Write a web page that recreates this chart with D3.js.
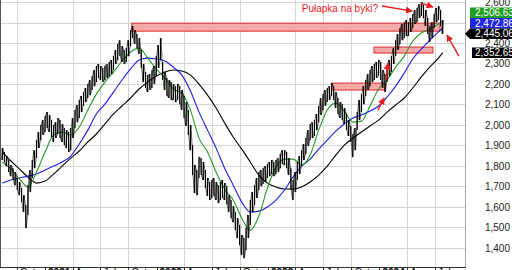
<!DOCTYPE html>
<html>
<head>
<meta charset="utf-8">
<script src="https://cdn.jsdelivr.net/npm/d3@7"></script>
<style>
  body { margin: 0; background: #fff; }
  svg { display: block; font-family: "Liberation Sans", Arial, sans-serif; }
</style>
</head>
<body>
<div id="chart"></div>
<script>
// Weekly bars, first bar = Fri 14 Aug 2020
var firstWeek = new Date(2020, 7, 14);
var weekHigh = [
  1886, 1867, 1847, 1828, 1803, 1788, 1769, 1740, 1720, 1691,
  1656, 1608, 1705, 1779, 1828, 1876, 1925, 1965, 1999, 2023,
  2043, 2062, 2048, 2023, 1999, 2013, 2033, 2023, 2004, 1984,
  1974, 1965, 1984, 2033, 2072, 2097, 2121, 2141, 2160, 2180,
  2199, 2219, 2238, 2268, 2287, 2297, 2287, 2278, 2287, 2297,
  2307, 2317, 2336, 2366, 2395, 2414, 2385, 2366, 2375, 2414,
  2463, 2483, 2463, 2444, 2424, 2366, 2297, 2258, 2243, 2248,
  2268, 2287, 2336, 2390, 2424, 2307, 2258, 2229, 2219, 2209,
  2199, 2189, 2199, 2189, 2170, 2141, 2111, 2072, 1999, 1901,
  1803, 1779, 1842, 1837, 1818, 1779, 1740, 1720, 1730, 1740,
  1720, 1705, 1720, 1730, 1715, 1700, 1656, 1632, 1603, 1573,
  1544, 1510, 1461, 1446, 1495, 1559, 1632, 1671, 1705, 1740,
  1769, 1779, 1788, 1798, 1808, 1818, 1828, 1818, 1828, 1837,
  1857, 1876, 1876, 1867, 1837, 1788, 1730, 1769, 1818, 1847,
  1876, 1906, 1935, 1974, 2004, 2013, 2023, 2053, 2092, 2131,
  2150, 2170, 2180, 2189, 2204, 2189, 2160, 2131, 2111, 2101,
  2082, 2053, 2023, 1994, 1955, 1984, 2062, 2121, 2150, 2189,
  2219, 2248, 2268, 2287, 2297, 2307, 2317, 2307, 2268, 2248,
  2287, 2317, 2336, 2375, 2414, 2444, 2473, 2493, 2502, 2512,
  2502, 2522, 2542, 2561, 2571, 2590, 2600, 2590, 2561, 2522,
  2483, 2502, 2542, 2571, 2581, 2561, 2512
];
var weekLow = [
  1828, 1818, 1798, 1769, 1749, 1730, 1705, 1681, 1656, 1622,
  1573, 1495, 1559, 1671, 1740, 1788, 1837, 1886, 1925, 1950,
  1965, 1984, 1965, 1940, 1916, 1935, 1955, 1935, 1916, 1901,
  1886, 1867, 1876, 1935, 1984, 2013, 2033, 2062, 2092, 2111,
  2131, 2145, 2170, 2189, 2209, 2229, 2219, 2209, 2219, 2229,
  2238, 2248, 2268, 2297, 2317, 2336, 2307, 2297, 2307, 2336,
  2385, 2424, 2395, 2375, 2346, 2278, 2209, 2180, 2160, 2170,
  2180, 2199, 2238, 2278, 2317, 2219, 2170, 2141, 2131, 2121,
  2121, 2111, 2121, 2101, 2072, 2033, 1994, 1950, 1876, 1754,
  1666, 1656, 1740, 1754, 1730, 1691, 1652, 1632, 1642, 1652,
  1632, 1617, 1632, 1642, 1632, 1612, 1573, 1544, 1524, 1485,
  1446, 1412, 1363, 1348, 1387, 1446, 1510, 1573, 1608, 1642,
  1681, 1700, 1710, 1720, 1740, 1749, 1759, 1749, 1759, 1769,
  1788, 1808, 1803, 1788, 1754, 1681, 1632, 1671, 1730, 1759,
  1798, 1828, 1857, 1896, 1925, 1935, 1945, 1974, 2013, 2048,
  2072, 2092, 2111, 2121, 2141, 2121, 2082, 2053, 2033, 2023,
  2004, 1974, 1945, 1916, 1842, 1876, 1974, 2023, 2062, 2101,
  2141, 2170, 2189, 2209, 2219, 2229, 2238, 2219, 2180, 2160,
  2209, 2238, 2258, 2297, 2336, 2366, 2395, 2414, 2424, 2434,
  2434, 2454, 2473, 2493, 2502, 2522, 2532, 2522, 2483, 2444,
  2405, 2424, 2473, 2502, 2512, 2483, 2444
];
var lastClose = 2445.06;

// Moving averages, one value every 4 weeks plus the last week
var maGreen = [
  1818, 1784, 1735, 1696, 1769, 1867, 1950, 1965, 1950, 1989,
  2072, 2150, 2209, 2258, 2312, 2356, 2375, 2326, 2273, 2229,
  2175, 2155, 2072, 1935, 1867, 1769, 1686, 1632, 1544, 1485,
  1554, 1691, 1793, 1832, 1832, 1803, 1852, 1974, 2072, 2106,
  2067, 2013, 2018, 2092, 2175, 2219, 2282, 2336, 2410, 2449,
  2468, 2493, 2506.63
];
var maBlue = [
  1715, 1730, 1740, 1749, 1759, 1779, 1798, 1818, 1847, 1906,
  1974, 2053, 2101, 2160, 2219, 2273, 2317, 2326, 2322, 2312,
  2282, 2243, 2165, 2062, 1974, 1886, 1788, 1705, 1622, 1573,
  1578, 1598, 1632, 1681, 1745, 1798, 1832, 1881, 1925, 1969,
  2004, 2033, 2048, 2067, 2092, 2136, 2189, 2253, 2322, 2370,
  2414, 2454, 2472.86
];
var maBlack = [
  1867, 1823, 1784, 1744, 1715, 1725, 1759, 1798, 1837, 1872,
  1916, 1955, 2004, 2053, 2092, 2131, 2175, 2209, 2238, 2258,
  2268, 2263, 2243, 2199, 2145, 2082, 2009, 1940, 1881, 1818,
  1754, 1715, 1696, 1686, 1686, 1696, 1720, 1754, 1798, 1852,
  1901, 1935, 1965, 1994, 2023, 2062, 2097, 2131, 2180, 2234,
  2283, 2326, 2352.65
];

var yTicks = [1400, 1500, 1600, 1700, 1800, 1900, 2000, 2100, 2200, 2300, 2400, 2500, 2600];
// 2,500 sits behind the value boxes in the reference
var yLabels = [1400, 1500, 1600, 1700, 1800, 1900, 2000, 2100, 2200, 2300, 2400, 2600];

// Resistance bands drawn by hand on the chart
var bandStart = ["2021-10-12", "2023-07-29", "2023-12-14"];
var bandEnd   = ["2024-07-17", "2024-01-19", "2024-06-24"];
var bandLow   = [2458, 2170, 2351];
var bandHigh  = [2497, 2204, 2380];

// Red annotation arrows: [from date, from value, to date, to value]
var arrows = [
  ["2024-01-09", 2581, "2024-04-17", 2556],
  ["2024-05-16", 2595, "2024-06-24", 2576],
  ["2024-09-17", 2336, "2024-08-09", 2439],
  ["2024-01-22", 2219, "2024-01-29", 2302],
  ["2023-12-27", 2072, "2024-01-16", 2131]
];
var noteText = "Pułapka na byki?";

var W = 512, H = 270;
var plotRight = 465, axisY = 267;

var parse = d3.timeParse("%Y-%m-%d");

var svg = d3.select("#chart").append("svg")
    .attr("width", W)
    .attr("height", H);

var x = d3.scaleTime()
    .domain([new Date(2020, 7, 13), new Date(2024, 9, 7)])
    .range([2, plotRight]);
var y = d3.scaleLinear()
    .domain([1400, 2600])
    .range([247.5, 2.1]);

var weeks = weekHigh.map(function(d, i) {
  return { date: d3.timeDay.offset(firstWeek, 7 * i), high: d, low: weekLow[i] };
});
var maIdx = d3.range(0, 205, 4).concat([206]);
function maData(arr) {
  return arr.map(function(v, i) { return { date: weeks[maIdx[i]].date, v: v }; });
}

// Quarter ticks
var qTicks = d3.timeMonth.range(new Date(2020, 9, 1), new Date(2024, 9, 1), 3);

// Grid
svg.append("g").selectAll("line")
    .data(yTicks)
  .enter().append("line")
    .attr("x1", 1).attr("x2", plotRight)
    .attr("y1", function(d) { return Math.round(y(d)) + 0.5; })
    .attr("y2", function(d) { return Math.round(y(d)) + 0.5; })
    .attr("stroke", "#d4d4d4");
svg.append("g").selectAll("line")
    .data(qTicks.filter(function(d) { return d.getMonth() !== 0; }))
  .enter().append("line")
    .attr("x1", function(d) { return Math.round(x(d)) + 0.5; })
    .attr("x2", function(d) { return Math.round(x(d)) + 0.5; })
    .attr("y1", 0).attr("y2", axisY)
    .attr("stroke", "#d4d4d4");

// Bands
svg.append("g").selectAll("rect")
    .data(bandStart)
  .enter().append("rect")
    .attr("x", function(d) { return x(parse(d)); })
    .attr("width", function(d, i) { return x(parse(bandEnd[i])) - x(parse(d)); })
    .attr("y", function(d, i) { return y(bandHigh[i]); })
    .attr("height", function(d, i) { return y(bandLow[i]) - y(bandHigh[i]); })
    .attr("fill", "#f6a9a9")
    .attr("stroke", "#e02828")
    .attr("stroke-width", 1);

// Moving averages
var line = d3.line()
    .x(function(d) { return x(d.date); })
    .y(function(d) { return y(d.v); })
    .curve(d3.curveMonotoneX);
[[maBlack, "#000000"], [maBlue, "#1c1ce0"], [maGreen, "#259a25"]].forEach(function(m) {
  svg.append("path")
      .datum(maData(m[0]))
      .attr("fill", "none")
      .attr("stroke", m[1])
      .attr("stroke-width", 1.1)
      .attr("d", line);
});

// Price: high-low bars plus a thin zigzag through them so it reads as a dense daily series
svg.append("g").selectAll("line")
    .data(weeks)
  .enter().append("line")
    .attr("x1", function(d) { return x(d.date); })
    .attr("x2", function(d) { return x(d.date); })
    .attr("y1", function(d) { return y(d.high); })
    .attr("y2", function(d) { return y(d.low); })
    .attr("stroke", "#000")
    .attr("stroke-width", 1.2);
var zig = [];
weeks.forEach(function(d, i) {
  var a = i % 2 ? d.high : d.low, b = i % 2 ? d.low : d.high;
  zig.push([x(d.date) - 0.5, y(a)], [x(d.date) + 0.5, y(b)]);
});
svg.append("path")
    .attr("d", d3.line()(zig))
    .attr("fill", "none")
    .attr("stroke", "#000")
    .attr("stroke-width", 0.6);

// Frame
svg.append("line").attr("x1", 0.5).attr("x2", 0.5).attr("y1", 0).attr("y2", axisY)
    .attr("stroke", "#555");
svg.append("line").attr("x1", plotRight + 0.5).attr("x2", plotRight + 0.5).attr("y1", 0).attr("y2", axisY)
    .attr("stroke", "#aaa");
svg.append("line").attr("x1", 0).attr("x2", plotRight + 1).attr("y1", axisY + 0.5).attr("y2", axisY + 0.5)
    .attr("stroke", "#333");

// X axis labels (mostly cut by the bottom edge)
var xa = svg.append("g");
xa.selectAll("line")
    .data(qTicks)
  .enter().append("line")
    .attr("x1", function(d) { return Math.round(x(d)) + 0.5; })
    .attr("x2", function(d) { return Math.round(x(d)) + 0.5; })
    .attr("y1", axisY).attr("y2", H)
    .attr("stroke", "#333");
xa.selectAll("text")
    .data(qTicks)
  .enter().append("text")
    .attr("x", function(d) { return x(d) + 3; })
    .attr("y", axisY + 9)
    .style("font-size", "10px")
    .style("font-weight", function(d) { return d.getMonth() === 0 ? "bold" : "normal"; })
    .text(function(d) { return d.getMonth() === 0 ? d.getFullYear() : d3.timeFormat("%b")(d); });

// Y axis labels
svg.append("g").selectAll("text")
    .data(yLabels)
  .enter().append("text")
    .attr("x", 510)
    .attr("y", function(d) { return y(d); })
    .attr("dy", "0.4em")
    .attr("text-anchor", "end")
    .style("font-size", "10px")
    .attr("fill", "#222")
    .text(d3.format(","));

// Last value boxes, pushed up when they overlap the price box
var fmt = d3.format(",.2f");
var boxH = 10.5;
var pY = y(lastClose);
var bY = Math.min(y(maBlue[maBlue.length - 1]), pY - boxH);
var gY = Math.min(y(maGreen[maGreen.length - 1]), bY - boxH);
var kY = y(maBlack[maBlack.length - 1]);
var boxes = [
  { cy: gY, v: maGreen[maGreen.length - 1], c: "#1f9e1f", x0: 470, arrow: false },
  { cy: bY, v: maBlue[maBlue.length - 1], c: "#2424e6", x0: 470, arrow: false },
  { cy: pY, v: lastClose, c: "#000", x0: 470, arrow: true },
  { cy: kY, v: maBlack[maBlack.length - 1], c: "#000", x0: 472, arrow: false }
];
boxes.forEach(function(b) {
  var t = b.cy - boxH / 2, btm = b.cy + boxH / 2;
  var pts = b.arrow
    ? [[465, b.cy], [b.x0, t], [W, t], [W, btm], [b.x0, btm]]
    : [[b.x0, t], [W, t], [W, btm], [b.x0, btm]];
  svg.append("polygon")
      .attr("points", pts.map(function(p) { return p.join(","); }).join(" "))
      .attr("fill", b.c);
  svg.append("text")
      .attr("x", 475)
      .attr("y", b.cy)
      .attr("dy", "0.36em")
      .attr("fill", "#fff")
      .style("font-size", "10px")
      .text(fmt(b.v));
});

// Annotations
svg.append("defs").append("marker")
    .attr("id", "head")
    .attr("viewBox", "0 0 10 10")
    .attr("refX", 9).attr("refY", 5)
    .attr("markerWidth", 5).attr("markerHeight", 5)
    .attr("orient", "auto")
  .append("path")
    .attr("d", "M0,0L10,5L0,10z")
    .attr("fill", "#e81c1c");
svg.append("g").selectAll("line")
    .data(arrows)
  .enter().append("line")
    .attr("x1", function(d) { return x(parse(d[0])); })
    .attr("y1", function(d) { return y(d[1]); })
    .attr("x2", function(d) { return x(parse(d[2])); })
    .attr("y2", function(d) { return y(d[3]); })
    .attr("stroke", "#e81c1c")
    .attr("stroke-width", 1.4)
    .attr("marker-end", "url(#head)");
svg.append("text")
    .attr("x", x(parse("2023-12-27")))
    .attr("y", y(2551))
    .attr("text-anchor", "end")
    .attr("fill", "#e81c1c")
    .style("font-size", "10px")
    .text(noteText);
</script>
</body>
</html>
